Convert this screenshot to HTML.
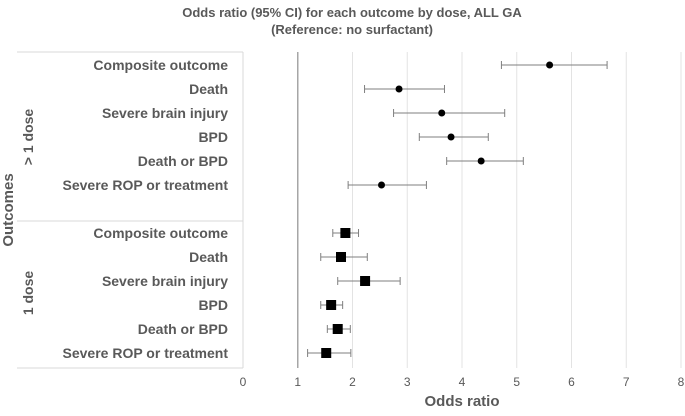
<!DOCTYPE html>
<html><head><meta charset="utf-8"><style>
body{margin:0;background:#fff;font-family:"Liberation Sans",sans-serif}
svg text{font-family:"Liberation Sans",sans-serif;fill:#595959}
</style></head><body>
<svg width="685" height="411" viewBox="0 0 685 411" xmlns="http://www.w3.org/2000/svg">
<text x="352" y="17" text-anchor="middle" font-size="13" font-weight="bold">Odds ratio (95% CI) for each outcome by dose, ALL GA</text>
<text x="352" y="34" text-anchor="middle" font-size="13" font-weight="bold">(Reference: no surfactant)</text>
<g id="grid"></g>
<g stroke="#d9d9d9" fill="none">
<line x1="17" y1="52" x2="243" y2="52"/><line x1="17" y1="221" x2="243" y2="221"/><line x1="17" y1="368" x2="243" y2="368"/><line x1="243" y1="52" x2="243" y2="368"/>
</g>
<text transform="translate(13,210) rotate(-90)" text-anchor="middle" font-size="15" font-weight="bold">Outcomes</text>
<text transform="translate(33,137) rotate(-90)" text-anchor="middle" font-size="14" font-weight="bold">&gt; 1 dose</text>
<text transform="translate(33,293) rotate(-90)" text-anchor="middle" font-size="14" font-weight="bold">1 dose</text>
<g id="labels"></g><g id="ticks"></g><g id="marks"></g>
<text x="462" y="406" text-anchor="middle" font-size="15" font-weight="bold">Odds ratio</text>
</svg>
<script>
const categories=["Composite outcome","Death","Severe brain injury","BPD","Death or BPD","Severe ROP or treatment"];
const multiOR=[5.6,2.85,3.63,3.8,4.35,2.53];
const multiLo=[4.72,2.22,2.75,3.22,3.72,1.92];
const multiHi=[6.65,3.68,4.78,4.48,5.12,3.35];
const singleOR=[1.87,1.79,2.23,1.61,1.73,1.52];
const singleLo=[1.64,1.42,1.73,1.42,1.54,1.18];
const singleHi=[2.11,2.27,2.87,1.82,1.96,1.97];
const tickLabels=["0","1","2","3","4","5","6","7","8"];
const NS="http://www.w3.org/2000/svg";
const x=v=>243+v*54.75;
const yRow=i=>65+i*24;
function mk(t,a,p){const e=document.createElementNS(NS,t);for(const k in a)e.setAttribute(k,a[k]);document.getElementById(p).appendChild(e);return e;}
tickLabels.forEach((t,i)=>{
 if(i>0){const l=mk('line',{x1:x(i),x2:x(i),y1:52,y2:368,stroke:i==1?'#a6a6a6':'#e3e3e3','stroke-width':i==1?1.5:1},'grid');
 
 }
 const tx=mk('text',{x:x(i),y:386,'text-anchor':'middle','font-size':12},'ticks');tx.textContent=t;
 
 
});
function series(or,lo,hi,off,sq){
 categories.forEach((c,i)=>{
  const y=yRow(i+off);
  const t=mk('text',{x:228,y:y+5,'text-anchor':'end','font-size':14,'font-weight':'bold'},'labels');t.textContent=c;
  
  
  const g=mk('g',{stroke:'#7f7f7f','stroke-width':1},'marks');
  
  
  [[x(lo[i]),y,x(hi[i]),y],[x(lo[i]),y-4,x(lo[i]),y+4],[x(hi[i]),y-4,x(hi[i]),y+4]].forEach(a=>{const l=document.createElementNS(NS,'line');l.setAttribute('x1',a[0]);l.setAttribute('y1',a[1]);l.setAttribute('x2',a[2]);l.setAttribute('y2',a[3]);g.appendChild(l);});
  const m=sq?mk('rect',{x:x(or[i])-5,y:y-5,width:10,height:10,fill:'#000'},'marks'):mk('circle',{cx:x(or[i]),cy:y,r:3.5,fill:'#000'},'marks');
  
  
 });
}
series(multiOR,multiLo,multiHi,0,false);
series(singleOR,singleLo,singleHi,7,true);
</script>
</body></html>
